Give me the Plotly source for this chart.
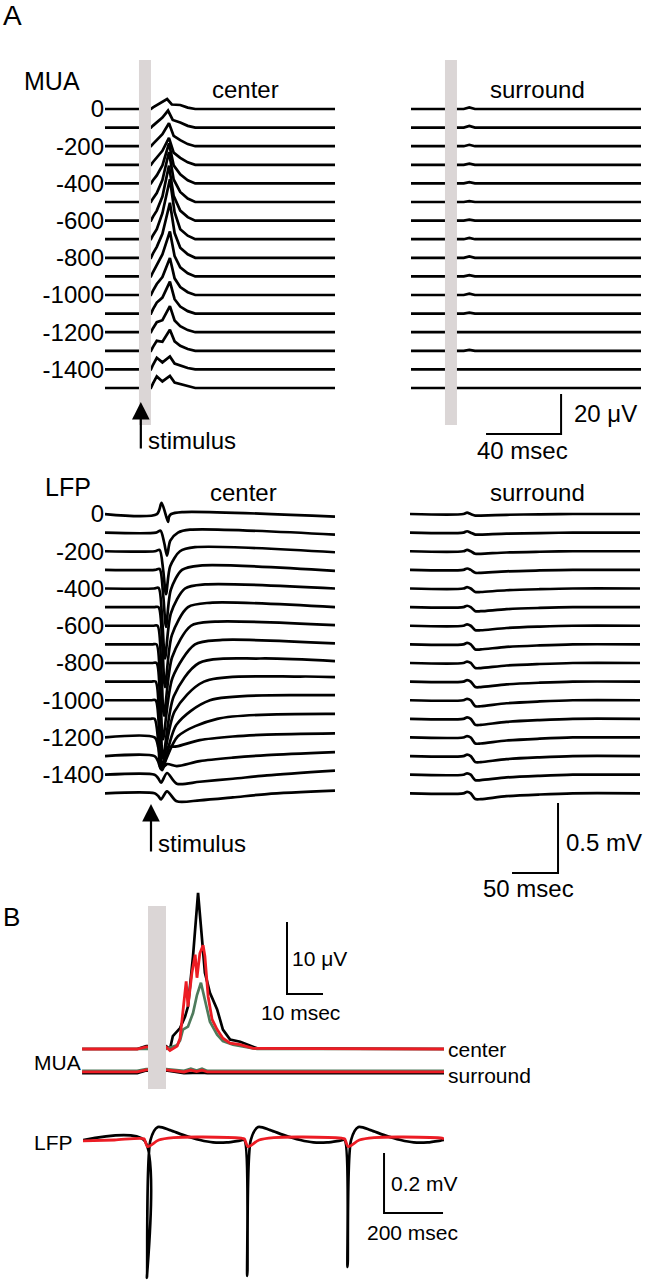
import plotly.graph_objects as go

# ---------------- data ----------------
depths = [0, -100, -200, -300, -400, -500, -600, -700, -800, -900,
          -1000, -1100, -1200, -1300, -1400, -1500]

# Panel A, MUA centre (microvolts, ms after stimulus)
mua_peak = [5, 8.5, 11.5, 13.5, 20, 25, 27.5, 30, 27.5, 22.5, 18.5, 16, 13, 10.5, 6.5, 6]
mua_peak_t = [15, 15.5, 16, 16, 16, 16, 16, 16.5, 16.5, 16.5, 16.5, 16.5, 16.5, 16.5, 16.5, 16.5]
mua_early = [2, 2.5, 3, 3.5, 4, 4.5, 5, 5, 5.5, 5.5, 5.5, 5.5, 5, 5, 5.8, 5.8]
mua_mid = [3.5, 5, 6, 7, 9, 11, 12, 13, 12, 11, 9, 8, 6, 4.5, 3.5, 3.3]
mua_shoulder = [2, 2.5, 3, 3.5, 4.5, 5, 5, 5, 5, 4.5, 4, 3.5, 3, 2.5, 2, 2]
# Panel A, MUA surround
mua_s_bump = [0.8, 0.8, 0.7, 0.6, 0.6, 0.4, 0.5, 0.6, 0.7, 0.6, 0.7, 0.5, 0.3, 0.5, 0.2, 0.2]

# Panel A, LFP centre (mV, ms)
lfp_c_trough = [0.057, 0.164, 0.307, 0.407, 0.50, 0.571, 0.643, 0.679, 0.679, 0.607,
                0.50, 0.357, 0.157, 0.093, 0.057, 0.043]
lfp_c_trough_t = [18.5, 17.4, 16.3, 16.3, 15.2, 15.2, 14.1, 13.0, 13.0, 12.0,
                  12.0, 10.9, 10.9, 10.9, 10.9, 10.9]
lfp_c_pre = [0.079, 0.014, 0.010, 0.007, 0.005, 0, 0, 0, 0, 0, 0, 0, 0, 0, 0, 0]
lfp_c_cross_t = [22, 29.3, 31.5, 33.7, 37, 40.2, 43.5, 47.8, 52.2, 57.6, 64.1, 72,
                 None, None, None, None]
lfp_c_reb = [0.014, 0.021, 0.029, 0.031, 0.029, 0.031, 0.029, 0.031, 0.032, 0.036, 0.036, 0.036,
             None, None, None, None]
lfp_c_reb_t = [33.7, 42.4, 47.8, 53.3, 58.7, 64.1, 69.6, 75, 118.5, 162, 183.7, 200,
               None, None, None, None]
lfp_c_end = [-0.019, -0.014, -0.007, -0.007, 0, 0, 0.004, 0.007, 0.014, 0.032, 0.036, 0.036,
             None, None, None, None]
# deep channels with a double dip (W shape)
lfp_c_bump = [None] * 12 + [-0.07, -0.057, 0.012, 0.014]
lfp_c_dip2 = [None] * 12 + [-0.064, -0.071, -0.064, -0.057]
lfp_c_tail_t = [53, 89, 126, 200]
lfp_c_tail = [None] * 12 + [[-0.019, 0.007, 0.020, 0.029],
                            [-0.036, -0.011, 0.007, 0.029],
                            [-0.050, -0.029, -0.005, 0.029],
                            [-0.050, -0.029, -0.005, 0.019]]
# Panel A, LFP surround
lfp_s_bump = [0.010] * 16
lfp_s_dip = [0.011, 0.014, 0.018, 0.021, 0.025, 0.029, 0.032, 0.036, 0.036, 0.039,
             0.043, 0.043, 0.043, 0.043, 0.039, 0.041]

# Panel B, MUA (microvolts)
b_mua_t_black = [-18.3, -3, -0.5, 5.0, 6.1, 6.9, 8.9, 10.3, 11.1, 12.5, 13.9, 15.0, 15.8,
                 17.2, 19.2, 20.8, 22.8, 25.6, 27.5, 30.3, 82.2]
b_mua_black = [0.0, 0.0, 0.4, 0.4, 0.0, 1.8, 2.9, 4.5, 5.9, 12.9, 21.7, 15.2, 10.6,
               7.8, 5.5, 2.7, 1.3, 1.0, 0.6, 0.1, 0.0]
b_mua_t_red = [-18.3, -3, -0.5, 5.0, 6.1, 6.9, 8.1, 8.9, 9.7, 10.6, 11.1, 12.2, 13.1, 13.6,
               14.4, 15.3, 15.8, 16.7, 17.8, 19.2, 20.8, 22.8, 25.6, 29.2, 82.2]
b_mua_red = [0.0, 0.0, 0.3, 0.3, -0.2, 0.0, 0.4, 1.5, 5.5, 9.4, 5.9, 10.6, 13.1, 9.9,
             13.3, 14.4, 12.9, 7.3, 4.1, 2.7, 1.5, 0.8, 0.6, 0.1, 0.0]
b_mua_t_green = [-18.3, 5.0, 8.0, 8.9, 9.7, 11.1, 12.5, 13.6, 14.7, 15.8, 17.2, 19.2,
                 20.8, 23.6, 30.3, 82.2]
b_mua_green = [0.0, 0.0, 0.5, 1.2, 2.7, 3.1, 5.0, 7.5, 9.2, 6.8, 3.8, 2.0, 1.1, 0.6, 0.0, 0.0]
b_mua_t_sur = [-18.3, -3, -0.5, 5, 10, 11.9, 13.5, 15, 16.5, 82.2]
b_mua_black_sur = [-0.15, -0.15, 0.2, 0.2, -0.15, -0.1, -0.15, -0.1, -0.15, -0.15]
b_mua_green_sur = [0.15, 0.15, 0.4, 0.4, 0.15, 0.45, 0.2, 0.45, 0.15, 0.15]
b_mua_red_sur = [0.0, 0.0, 0.3, 0.3, 0.0, 0.25, 0.05, 0.25, 0.0, 0.0]

# Panel B, LFP (mV)
b_lfp_pulses = [0, 340, 680]
b_lfp_black_trough = [0.46, 0.453, 0.423]
b_lfp_tail_t = [22, 47, 88, 132, 190, 234, 281, 325]
b_lfp_black_tail = [0.0, 0.043, 0.033, 0.017, 0.0, -0.008, -0.008, -0.002]
b_lfp_red_t = [0, 4, 12, 22, 50, 100, 200, 330]
b_lfp_red = [0.004, -0.005, -0.022, -0.018, 0.0, 0.008, 0.010, 0.006]

# ---------------- layout helpers ----------------
W, H = 669, 1280
FONT = "Liberation Sans, Arial, sans-serif"
GRAY = "#dbd6d6"
RED = "#ec1c24"
GREEN = "#4e7b5c"
MUA_SP = 9.3      # uV between channels
LFP_SP = 0.133    # mV between channels
LW = 2.7


def px(x):
    return x / W


def py(y):
    return 1 - y / H


fig = go.Figure()


def line(x, y, ax, color="black", width=LW, shape="linear"):
    fig.add_trace(go.Scatter(x=x, y=y, mode="lines", xaxis="x" + ax, yaxis="y" + ax,
                             line=dict(color=color, width=width, shape=shape, smoothing=0.8),
                             hoverinfo="skip", showlegend=False))


# ---- A: MUA centre (axis 1) and surround (axis 2)
for i in range(16):
    off = -i * MUA_SP
    e, m, p, s = mua_early[i], mua_mid[i], mua_peak[i], mua_shoulder[i]
    pt = mua_peak_t[i]
    xs = [-18.1, 6.4, 7.5, 9.5, 12.5, pt, pt + 2.5, 22, 26, 30, 104.5]
    ys = [0, 0, 0.4 * e, e, m, p, max(0.45 * p, s), s, 0.35 * s, 0, 0]
    line(xs, [v + off for v in ys], "")
    xs = [-18.1, 6.4, 10, 13, 16, 104.5]
    ys = [0, 0, 0, mua_s_bump[i], 0, 0]
    line(xs, [v + off for v in ys], "2")

# ---- A: LFP centre (axis 3) and surround (axis 4)
for i in range(16):
    off = -i * LFP_SP
    tt, d = lfp_c_trough_t[i], lfp_c_trough[i]
    if lfp_c_dip2[i] is not None:
        pts = [(-50, 0), (tt - 7, 0), (tt - 3, -0.45 * d), (tt, -d),
               (17.4, lfp_c_bump[i]), (28, lfp_c_dip2[i])]
        pts += list(zip(lfp_c_tail_t, lfp_c_tail[i]))
    else:
        ct, rt = lfp_c_cross_t[i], lfp_c_reb_t[i]
        pts = [(-50, 0), (tt - 12, 0), (tt - 7, lfp_c_pre[i])]
        if lfp_c_pre[i] < 0.05:
            pts.append((tt - 3, -0.45 * d))
        pts += [(tt, -d), (tt + 0.3 * (ct - tt), -0.35 * d), (ct, 0), (rt, lfp_c_reb[i])]
        if rt < 199:
            pts.append((200, lfp_c_end[i]))
    line([p[0] for p in pts], [p[1] + off for p in pts], "3", shape="spline")
    b, dp = lfp_s_bump[i], lfp_s_dip[i]
    pts = [(-50, 0), (8, 0), (12, b), (16, 0), (21, -dp), (27, -dp), (55, -0.5 * dp),
           (91, -0.2 * dp), (127, 0), (200, 0)]
    line([p[0] for p in pts], [p[1] + off for p in pts], "4", shape="spline")

# ---- B: MUA (axis 5)
BS = -3.19
line(b_mua_t_sur, [v + BS for v in b_mua_black_sur], "5")
line(b_mua_t_sur, [v + BS for v in b_mua_green_sur], "5", color=GREEN)
line(b_mua_t_sur, [v + BS for v in b_mua_red_sur], "5", color=RED, width=2.8)
line(b_mua_t_black, b_mua_black, "5")
line(b_mua_t_green, b_mua_green, "5", color=GREEN)
line(b_mua_t_red, b_mua_red, "5", color=RED, width=2.8)

# ---- B: LFP (axis 6)
bx, by = [-206.8], [0.0]
rx, ry = [-206.8, -100], [-0.003, 0.0]
for k, tp in enumerate(b_lfp_pulses):
    bx += [tp, tp + 10]
    by += [0.0, -b_lfp_black_trough[k]]
    bx += [tp + t for t in b_lfp_tail_t]
    by += b_lfp_black_tail
    rx += [tp + t for t in b_lfp_red_t]
    ry += b_lfp_red
bx.append(1016.9); by.append(0.0)
rx.append(1016.9); ry.append(0.003)
line(bx, by, "6", shape="spline")
line(rx, ry, "6", color=RED, width=2.8, shape="spline")

# ---- scale bars (data units)
line([21.9, 61.9, 61.9], [-162.5, -162.5, -142.5], "2", width=2)
line([60.9, 110.9, 110.9], [-2.564, -2.564, -2.064], "4", width=2)
line([48.6, 38.6, 38.6], [7.64, 7.64, 17.64], "5", width=2)
line([1013.6, 813.6, 813.6], [-0.2433, -0.2433, -0.0433], "6", width=2)

# ---- stimulus blanking bars (drawn over traces)
shapes = [
    dict(type="rect", xref="x", yref="y", x0=0, x1=6.4, y0=-158, y1=24.5,
         fillcolor=GRAY, line_width=0, layer="above"),
    dict(type="rect", xref="x2", yref="y2", x0=0, x1=6.4, y0=-158, y1=24.5,
         fillcolor=GRAY, line_width=0, layer="above"),
    dict(type="rect", xref="x5", yref="y5", x0=0, x1=5, y0=-5.56, y1=19.86,
         fillcolor=GRAY, line_width=0, layer="above"),
]

# ---- axes
def dom_x(a, b):
    return [px(a), px(b)]


def dom_y(top, bottom):
    return [py(bottom), py(top)]


hidden = dict(visible=False, showgrid=False, zeroline=False, fixedrange=True)
tick_idx = list(range(0, 16, 2))
layout = dict(
    width=W, height=H, margin=dict(l=0, r=0, t=0, b=0),
    paper_bgcolor="white", plot_bgcolor="rgba(0,0,0,0)", showlegend=False,
    font=dict(family=FONT, color="black"),
    xaxis=dict(domain=dom_x(105, 335), range=[-18.1, 104.5], anchor="y", **hidden),
    yaxis=dict(domain=dom_y(60, 440), range=[-165.5, 24.5], anchor="x",
               showgrid=False, zeroline=False, showline=False, ticks="", fixedrange=True,
               tickmode="array", tickvals=[-k * MUA_SP for k in tick_idx],
               ticktext=[str(depths[k]) for k in tick_idx],
               tickfont=dict(size=24, family=FONT, color="black")),
    xaxis2=dict(domain=dom_x(411, 641), range=[-18.1, 104.5], anchor="y2", **hidden),
    yaxis2=dict(domain=dom_y(60, 440), range=[-165.5, 24.5], anchor="x2", **hidden),
    xaxis3=dict(domain=dom_x(105, 335), range=[-50, 200], anchor="y3", **hidden),
    yaxis3=dict(domain=dom_y(480, 880), range=[-2.614, 0.243], anchor="x3",
                showgrid=False, zeroline=False, showline=False, ticks="", fixedrange=True,
                tickmode="array", tickvals=[-k * LFP_SP for k in tick_idx],
                ticktext=[str(depths[k]) for k in tick_idx],
                tickfont=dict(size=24, family=FONT, color="black")),
    xaxis4=dict(domain=dom_x(410, 640), range=[-50, 200], anchor="y4", **hidden),
    yaxis4=dict(domain=dom_y(480, 880), range=[-2.614, 0.243], anchor="x4", **hidden),
    xaxis5=dict(domain=dom_x(82, 444), range=[-18.33, 82.2], anchor="y5", **hidden),
    yaxis5=dict(domain=dom_y(885, 1095), range=[-6.389, 22.78], anchor="x5", **hidden),
    xaxis6=dict(domain=dom_x(83, 444), range=[-206.8, 1016.9], anchor="y6", **hidden),
    yaxis6=dict(domain=dom_y(1095, 1280), range=[-0.4667, 0.15], anchor="x6", **hidden),
    shapes=shapes,
)


def txt(x, y, s, size=24, anchor="center"):
    return dict(x=px(x), y=py(y), xref="paper", yref="paper", text=s, showarrow=False,
                xanchor=anchor, yanchor="middle", font=dict(size=size, family=FONT, color="black"))


ann = [
    txt(1, 16, "A", 28, "left"),
    txt(52, 81, "MUA", 25),
    txt(245, 89, "center"),
    txt(537, 89, "surround"),
    txt(146, 441, "stimulus", 24, "left"),
    txt(572, 413, "20 μV", 24, "left"),
    txt(522, 450, "40 msec"),
    txt(68, 487, "LFP", 25),
    txt(243, 492, "center"),
    txt(537, 492, "surround"),
    txt(156, 843, "stimulus", 24, "left"),
    txt(564, 842, "0.5 mV", 24, "left"),
    txt(528, 888, "50 msec"),
    txt(1, 917, "B", 26, "left"),
    txt(290, 958, "10 μV", 21, "left"),
    txt(300, 1012, "10 msec", 21),
    txt(446, 1049, "center", 21, "left"),
    txt(446, 1075, "surround", 21, "left"),
    txt(57, 1062, "MUA", 21),
    txt(53, 1142, "LFP", 21),
    txt(389, 1183, "0.2 mV", 21, "left"),
    txt(412, 1232, "200 msec", 21),
    # stimulus arrows
    dict(x=1, y=-146.5, xref="x", yref="y", text="", showarrow=True, ax=0, ay=48,
         arrowhead=2, arrowsize=1.6, arrowwidth=2.2, arrowcolor="black"),
    dict(x=0, y=-2.071, xref="x3", yref="y3", text="", showarrow=True, ax=0, ay=49,
         arrowhead=2, arrowsize=1.6, arrowwidth=2.2, arrowcolor="black"),
]
layout["annotations"] = ann
fig.update_layout(**layout)
fig.write_html("out.html", config={"displayModeBar": False},
               post_script="document.body.style.margin='0';document.body.style.overflow='hidden';")
